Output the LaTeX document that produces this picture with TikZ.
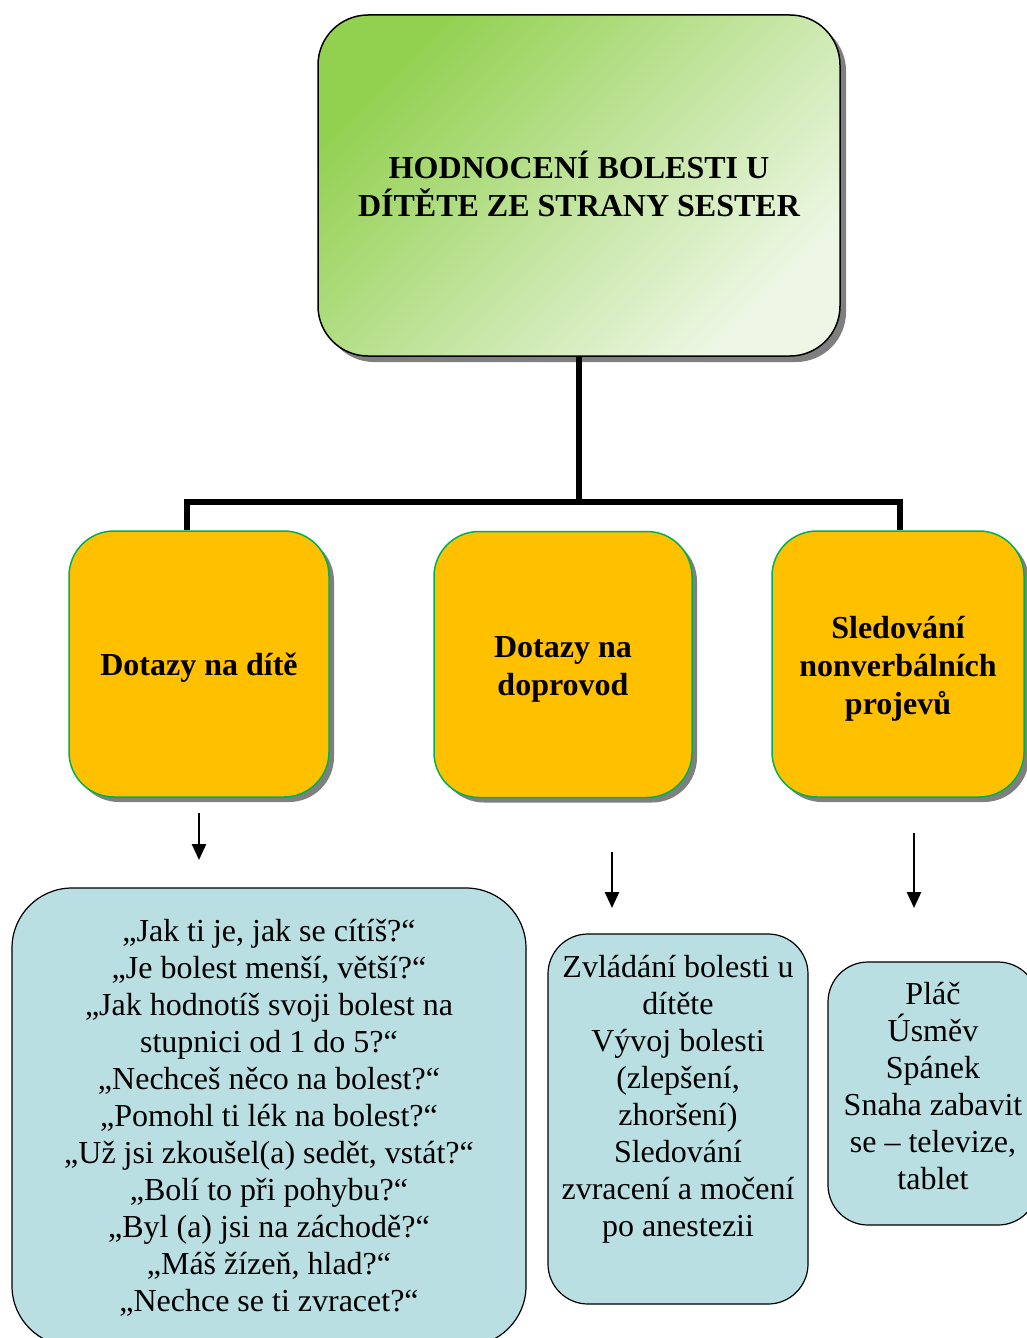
\documentclass[tikz,border=0pt]{standalone}
\usepackage{fontspec}
\setmainfont{Liberation Serif}
\usetikzlibrary{arrows.meta,shadows}
\definecolor{leafgreen}{HTML}{92D050}
\definecolor{paleleaf}{HTML}{EEF7E6}
\definecolor{amber}{HTML}{FFC000}
\definecolor{rimgreen}{HTML}{00B050}
\definecolor{mist}{HTML}{B9DFE2}
\definecolor{shadowgrey}{HTML}{7F7F7F}
\begin{document}
\begin{tikzpicture}[x=1pt,y=-1pt,
  bigtext/.style={font=\fontsize{32}{37}\selectfont, align=center, text=black, inner sep=0pt},
  boldtext/.style={font=\fontsize{32}{38}\selectfont\bfseries, align=center, text=black, inner sep=0pt},
  headbox/.style={draw=black, line width=1.5pt, rounded corners=50pt,
    top color=leafgreen, bottom color=paleleaf, shading angle=45,
    drop shadow={shadow xshift=6pt, shadow yshift=-6pt, fill=shadowgrey, opacity=1},
    minimum width=522pt, minimum height=341pt, inner sep=0pt},
  areabox/.style={draw=rimgreen, line width=1.5pt, fill=amber, rounded corners=45pt,
    drop shadow={shadow xshift=5pt, shadow yshift=-5pt, fill=shadowgrey, opacity=1},
    minimum height=266pt, inner sep=0pt},
  notebox/.style={draw=black, line width=1.2pt, fill=mist, inner sep=0pt},
  trunk/.style={line width=5.5pt, line join=miter, line cap=butt},
  pointer/.style={line width=2.6pt, -{Triangle[length=16pt,width=14pt]}}
]
\useasboundingbox (0,0) rectangle (1027,1338);
\clip (0,0) rectangle (1027,1338);
\fill[white] (0,0) rectangle (1027,1338);

% main heading
\node[headbox] (head) at (579,185.5) {};
\node[boldtext] (thead) at (579,184) {HODNOCENÍ BOLESTI U\\DÍTĚTE ZE STRANY SESTER};

% three branches
\node[areabox, minimum width=260pt] (child) at (199,664) {};
\node[areabox, minimum width=258pt] (escort) at (563,664.5) {};
\node[areabox, minimum width=252pt] (signs) at (898,664) {};
\node[boldtext] (tchildhead) at (199,668) {Dotazy na dítě};
\node[boldtext] (tescorthead) at (563,669) {Dotazy na\\doprovod};
\node[boldtext] (tsignshead) at (898,669) {Sledování\\nonverbálních\\projevů};

% tree connector
\coordinate (hub) at (579,502);
\coordinate (legL) at (187,502);
\coordinate (legR) at (900,502);
\draw[trunk] (head.south) -- (hub);
\draw[trunk] (legL |- child.north) -- (legL) -- (legR) -- (legR |- signs.north);

% detail boxes
\node[notebox, rounded corners=60pt, minimum width=514pt, minimum height=458pt] (qchild) at (269,1117) {};
\node[notebox, rounded corners=40pt, minimum width=260pt, minimum height=370pt] (qescort) at (678,1119) {};
\node[notebox, rounded corners=40pt, minimum width=210pt, minimum height=263pt] (qsigns) at (933,1093.5) {};

\node[bigtext] (tchild) at (269,1118) {„Jak ti je, jak se cítíš?“\\
„Je bolest menší, větší?“\\
„Jak hodnotíš svoji bolest na\\
stupnici od 1 do 5?“\\
„Nechceš něco na bolest?“\\
„Pomohl ti lék na bolest?“\\
„Už jsi zkoušel(a) sedět, vstát?“\\
„Bolí to při pohybu?“\\
„Byl (a) jsi na záchodě?“\\
„Máš žízeň, hlad?“\\
„Nechce se ti zvracet?“};

\node[bigtext] (tescort) at (678,1099) {Zvládání bolesti u\\dítěte\\Vývoj bolesti\\(zlepšení,\\zhoršení)\\Sledování\\zvracení a močení\\po anestezii};

\node[bigtext] (tsigns) at (933,1086) {Pláč\\Úsměv\\Spánek\\Snaha zabavit\\se – televize,\\tablet};

% arrows towards the details
\coordinate (p1s) at (199,813);
\coordinate (p1e) at (199,860);
\coordinate (p2s) at (612,852);
\coordinate (p2e) at (612,908);
\coordinate (p3s) at (914,833);
\coordinate (p3e) at (914,908);
\draw[pointer] (p1s) -- (p1e);
\draw[pointer] (p2s) -- (p2e);
\draw[pointer] (p3s) -- (p3e);
\end{tikzpicture}
\end{document}
